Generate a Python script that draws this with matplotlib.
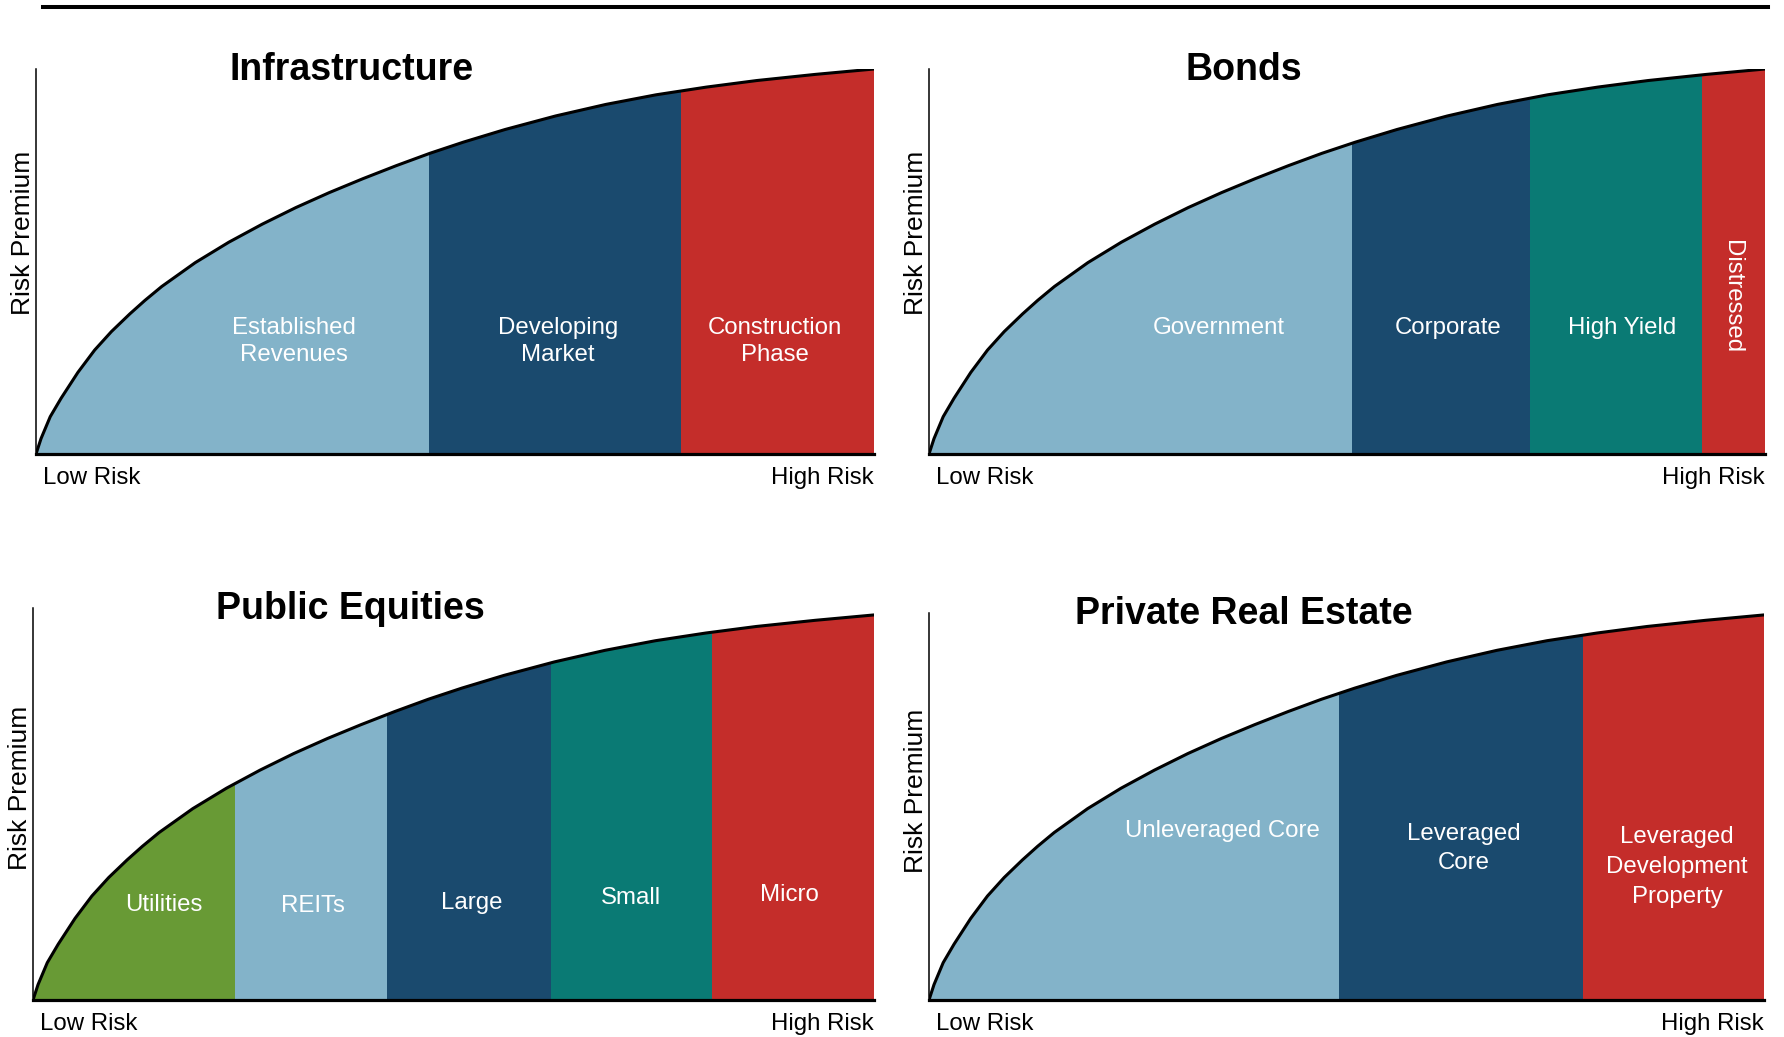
import matplotlib.pyplot as plt
from matplotlib.lines import Line2D
from matplotlib.patches import Polygon

plt.rcParams['font.family'] = ['Liberation Sans', 'DejaVu Sans']

# shared risk/return curve, x and y as fractions of the panel
curve_x = [0.0, 0.006, 0.017, 0.03, 0.05, 0.07, 0.09, 0.112, 0.13, 0.15, 0.19, 0.23,
           0.27, 0.31, 0.35, 0.39, 0.43, 0.47, 0.51, 0.56, 0.62, 0.68, 0.74, 0.80,
           0.86, 0.93, 1.0]
curve_y = [0.0, 0.040, 0.097, 0.145, 0.212, 0.270, 0.318, 0.364, 0.399, 0.435, 0.497,
           0.550, 0.597, 0.640, 0.679, 0.715, 0.749, 0.781, 0.810, 0.843, 0.878,
           0.908, 0.933, 0.953, 0.970, 0.986, 1.0]

infra_labels = ['Established\nRevenues', 'Developing\nMarket', 'Construction\nPhase']
infra_edges = [0.0, 0.469, 0.770, 1.0]

bond_labels = ['Government', 'Corporate', 'High Yield', 'Distressed']
bond_edges = [0.0, 0.506, 0.719, 0.925, 1.0]

equity_labels = ['Utilities', 'REITs', 'Large', 'Small', 'Micro']
equity_edges = [0.0, 0.240, 0.421, 0.616, 0.807, 1.0]

realestate_labels = ['Unleveraged Core', 'Leveraged\nCore', 'Leveraged\nDevelopment\nProperty']
realestate_edges = [0.0, 0.491, 0.783, 1.0]

LIGHT = '#83b3c9'
NAVY = '#1a4a6e'
RED = '#c42d2a'
TEAL = '#0a7a74'
GREEN = '#689a35'

W, H = 1784, 1037
fig = plt.figure(figsize=(W / 100, H / 100), dpi=100)


def panel(rect, title, labels, edges, colors, label_pos, ytop=1.0, ypos_risk=0.57, lspacing=1.25):
    left, right, bottom, top = rect
    ax = fig.add_axes([left / W, 1 - bottom / H, (right - left) / W, (bottom - top) / H])
    ax.set_xlim(0, 1)
    ax.set_ylim(0, ytop)

    # area under the curve, used to clip the coloured bands
    poly = Polygon(list(zip(curve_x, curve_y)) + [(1.0, 0.0)], closed=True,
                   facecolor='none', edgecolor='none', transform=ax.transData)
    ax.add_patch(poly)

    widths = [edges[i + 1] - edges[i] for i in range(len(labels))]
    bars = ax.bar(edges[:-1], [1.0] * len(labels), width=widths, align='edge',
                  color=colors, linewidth=0)
    for b in bars:
        b.set_clip_path(poly)

    ax.plot(curve_x, curve_y, color='black', lw=2.2, solid_capstyle='round',
            solid_joinstyle='round', zorder=5)

    for lab, (tx, ty, rot) in zip(labels, label_pos):
        ax.text(tx, ty, lab, color='white', fontsize=17.3, ha='center', va='center',
                rotation=rot, linespacing=lspacing, zorder=6)

    for side in ['top', 'right']:
        ax.spines[side].set_visible(False)
    ax.spines['left'].set_linewidth(1.1)
    ax.spines['bottom'].set_linewidth(2.3)
    ax.set_xticks([])
    ax.set_yticks([])

    ax.text(0.377, 0.971, title, fontsize=27, fontweight='bold', ha='center',
            va='baseline', transform=ax.transAxes)
    ax.text(0.008, -0.062, 'Low Risk', fontsize=17.3, ha='left', va='center',
            transform=ax.transAxes)
    ax.text(1.0, -0.062, 'High Risk', fontsize=17.3, ha='right', va='center',
            transform=ax.transAxes)
    ax.text(-0.0155, ypos_risk, 'Risk Premium', fontsize=19, rotation=90,
            ha='center', va='center', transform=ax.transAxes)
    return ax


panel((36, 874, 454, 69), 'Infrastructure', infra_labels, infra_edges,
      [LIGHT, NAVY, RED],
      [(0.308, 0.292, 0), (0.623, 0.292, 0), (0.882, 0.292, 0)],
      ypos_risk=0.574)

panel((929, 1765, 454, 69), 'Bonds', bond_labels, bond_edges,
      [LIGHT, NAVY, TEAL, RED],
      [(0.347, 0.327, 0), (0.621, 0.327, 0), (0.829, 0.327, 0), (0.961, 0.408, -90)],
      ypos_risk=0.574)

panel((33, 874, 1000, 608), 'Public Equities', equity_labels, equity_edges,
      [GREEN, LIGHT, NAVY, TEAL, RED],
      [(0.156, 0.246, 0), (0.333, 0.243, 0), (0.522, 0.253, 0), (0.711, 0.266, 0), (0.899, 0.272, 0)],
      ytop=1.018, ypos_risk=0.54)

panel((929, 1764, 1000, 613), 'Private Real Estate', realestate_labels, realestate_edges,
      [LIGHT, NAVY, RED],
      [(0.352, 0.438, 0), (0.641, 0.393, 0), (0.896, 0.345, 0)],
      ytop=1.005, ypos_risk=0.54, lspacing=1.45)

# rule across the top of the page
fig.add_artist(Line2D([43 / W, 1768 / W], [1 - 7 / H, 1 - 7 / H], color='black', lw=2.9))

fig.savefig('out.png', dpi=100)
